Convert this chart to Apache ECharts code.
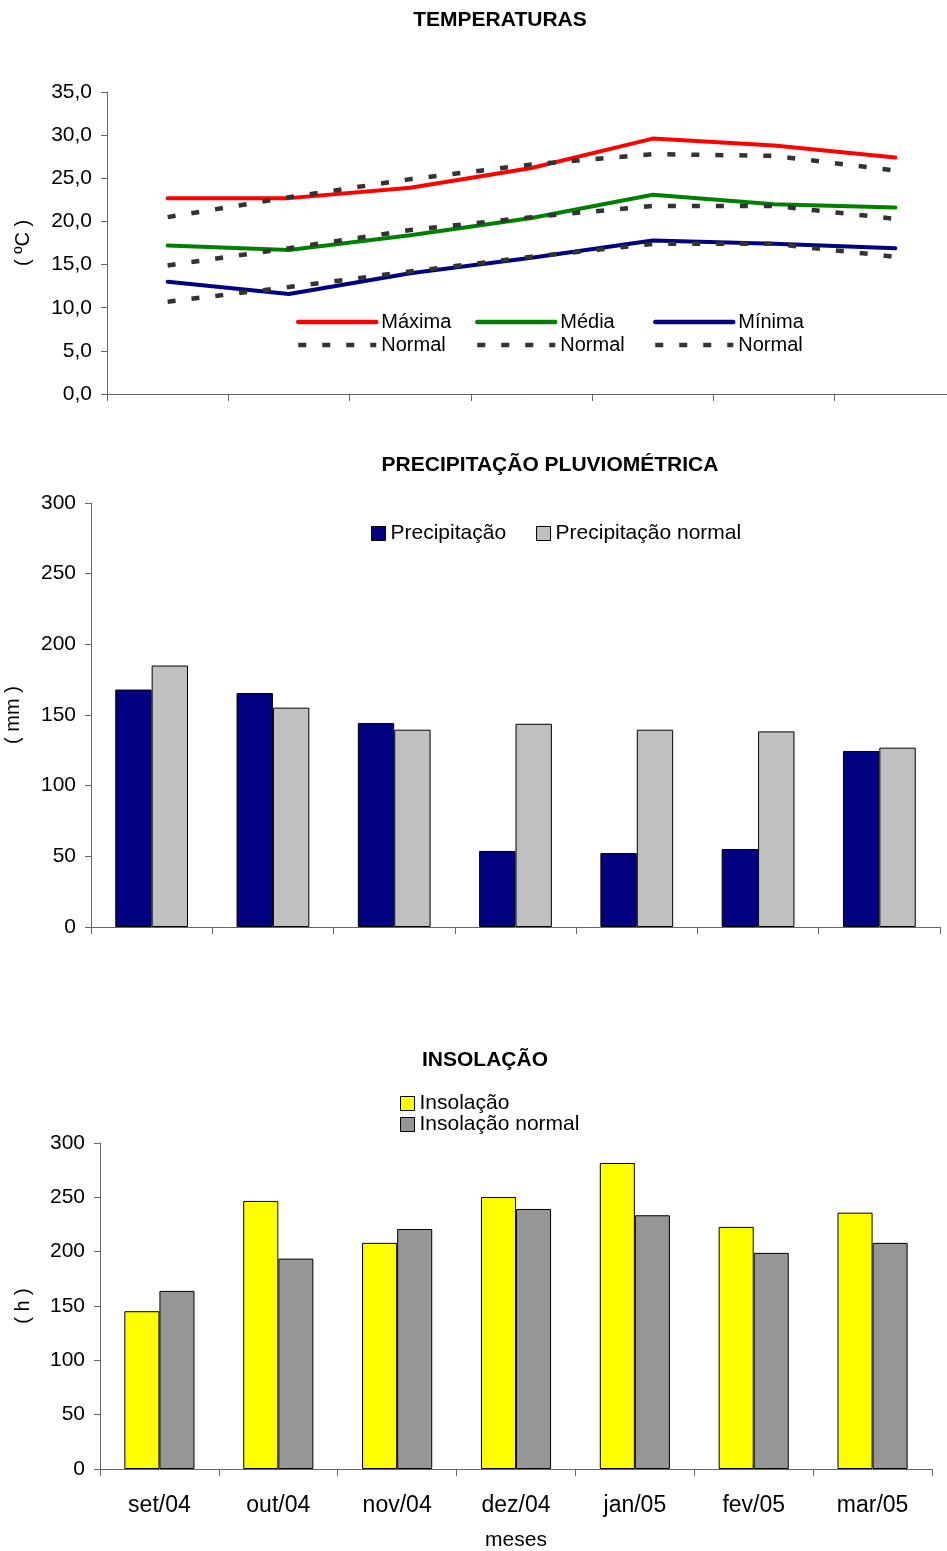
<!DOCTYPE html>
<html>
<head>
<meta charset="utf-8">
<script src="https://cdn.jsdelivr.net/npm/echarts@6/dist/echarts.min.js"></script>
<style>
  html, body { margin: 0; padding: 0; background: #fff; }
  #chart { width: 947px; height: 1551px; }
</style>
</head>
<body>
<div id="chart"></div>
<script>
// Monthly climate summary, Sep/2004 – Mar/2005
const months = ['set/04', 'out/04', 'nov/04', 'dez/04', 'jan/05', 'fev/05', 'mar/05'];

// Temperatures (ºC)
const tMax       = [22.7, 22.7, 23.9, 26.2, 29.6, 28.8, 27.4];
const tMaxNormal = [20.5, 22.8, 24.9, 26.6, 27.8, 27.6, 25.9];
const tMed       = [17.2, 16.7, 18.4, 20.4, 23.1, 22.0, 21.6];
const tMedNormal = [14.9, 16.9, 19.0, 20.5, 21.8, 21.8, 20.3];
const tMin       = [13.0, 11.6, 14.0, 15.8, 17.8, 17.4, 16.9];
const tMinNormal = [10.7, 12.4, 14.2, 15.9, 17.4, 17.4, 15.9];

// Rainfall (mm)
const precip       = [168.0, 165.5, 144.3, 53.8, 52.3, 55.2, 124.5];
const precipNormal = [185.0, 155.2, 139.6, 143.8, 139.6, 138.4, 126.9];

// Sunshine hours (h)
const insol       = [145.2, 246.7, 208.1, 250.3, 281.6, 222.8, 235.9];
const insolNormal = [163.9, 193.6, 220.9, 239.3, 233.5, 198.9, 208.1];

const FONT = "'Liberation Sans', Arial, sans-serif";
const AXIS_COLOR = '#666666';
const NORMAL_DOT = '#333333';

const chart = echarts.init(document.getElementById('chart'), null, { renderer: 'canvas' });

function baseX(gridIndex, showLabels) {
  return {
    type: 'category',
    gridIndex: gridIndex,
    data: months,
    boundaryGap: true,
    axisLine: { lineStyle: { color: AXIS_COLOR, width: 1 } },
    axisTick: { show: true, interval: 0, length: 7, lineStyle: { color: AXIS_COLOR } },
    axisLabel: showLabels
      ? { show: true, interval: 0, margin: 25, fontFamily: FONT, fontSize: 23, color: '#000' }
      : { show: false },
    splitLine: { show: false }
  };
}

function baseY(gridIndex, max, interval, name, nameGap, fmt) {
  return {
    type: 'value',
    gridIndex: gridIndex,
    min: 0,
    max: max,
    interval: interval,
    name: name,
    nameLocation: 'middle',
    nameGap: nameGap,
    nameRotate: 90,
    nameTextStyle: { fontFamily: FONT, fontSize: 20, color: '#000' },
    axisLine: { show: true, lineStyle: { color: AXIS_COLOR, width: 1 } },
    axisTick: { show: true, inside: false, length: 6, lineStyle: { color: AXIS_COLOR } },
    axisLabel: { margin: 15, fontFamily: FONT, fontSize: 21, color: '#000', formatter: fmt },
    splitLine: { show: false }
  };
}

function lineSeries(name, data, color, dotted) {
  return {
    type: 'line',
    name: name,
    xAxisIndex: 0,
    yAxisIndex: 0,
    data: data,
    symbol: 'none',
    smooth: false,
    z: dotted ? 3 : 2,
    lineStyle: dotted
      ? { color: NORMAL_DOT, width: 4.5, type: [8, 16], cap: 'butt' }
      : { color: color, width: 4, cap: 'round' },
    itemStyle: { color: dotted ? NORMAL_DOT : color }
  };
}

function barSeries(name, data, axisIndex, color, catGap) {
  return {
    type: 'bar',
    name: name,
    xAxisIndex: axisIndex,
    yAxisIndex: axisIndex,
    data: data,
    barGap: '0%',
    barCategoryGap: catGap,
    itemStyle: { color: color, borderColor: '#000', borderWidth: 1 }
  };
}

const normalLabel = name => (name.indexOf('Normal') === 0 ? 'Normal' : name);

// Temperature legend columns: line sample on top, its normal below
function tempLegend(left, names) {
  return {
    orient: 'vertical',
    left: left,
    top: 312,
    itemWidth: 78,
    itemHeight: 14,
    itemGap: 3,
    padding: 0,
    selectedMode: false,
    data: names,
    formatter: normalLabel,
    itemStyle: { opacity: 0 },
    lineStyle: { width: 4.5 },
    textStyle: { fontFamily: FONT, fontSize: 20, color: '#000' }
  };
}

const titleStyle = { fontFamily: FONT, fontSize: 21, fontWeight: 'bold', color: '#000' };

const option = {
  animation: false,
  backgroundColor: '#ffffff',
  title: [
    { text: 'TEMPERATURAS', left: 500, top: 10, padding: 0, textAlign: 'center', textStyle: titleStyle },
    { text: 'PRECIPITAÇÃO PLUVIOMÉTRICA', left: 550, top: 455, padding: 0, textAlign: 'center', textStyle: titleStyle },
    { text: 'INSOLAÇÃO', left: 485, top: 1050, padding: 0, textAlign: 'center', textStyle: titleStyle }
  ],
  legend: [
    tempLegend(296, ['Máxima', 'Normal (máxima)']),
    tempLegend(475, ['Média', 'Normal (média)']),
    tempLegend(653, ['Mínima', 'Normal (mínima)']),
    {
      orient: 'horizontal',
      left: 371,
      top: 523,
      itemWidth: 14,
      itemHeight: 14,
      itemGap: 30,
      padding: 0,
      selectedMode: false,
      icon: 'rect',
      data: ['Precipitação', 'Precipitação normal'],
      itemStyle: { borderColor: '#000', borderWidth: 1 },
      textStyle: { fontFamily: FONT, fontSize: 21, color: '#000' }
    },
    {
      orient: 'vertical',
      left: 400,
      top: 1093,
      itemWidth: 14,
      itemHeight: 14,
      itemGap: 0,
      padding: 0,
      selectedMode: false,
      icon: 'rect',
      data: ['Insolação', 'Insolação normal'],
      itemStyle: { borderColor: '#000', borderWidth: 1 },
      textStyle: { fontFamily: FONT, fontSize: 21, color: '#000' }
    }
  ],
  grid: [
    { left: 107, top: 92, width: 849, height: 302, outerBoundsMode: 'none', containLabel: false },
    { left: 91, top: 503, width: 849, height: 424, outerBoundsMode: 'none', containLabel: false },
    { left: 100, top: 1143, width: 832, height: 326, outerBoundsMode: 'none', containLabel: false }
  ],
  xAxis: [
    baseX(0, false),
    baseX(1, false),
    Object.assign(baseX(2, true), {
      name: 'meses',
      nameLocation: 'middle',
      nameGap: 61,
      nameTextStyle: { fontFamily: FONT, fontSize: 21, color: '#000' }
    })
  ],
  yAxis: [
    baseY(0, 35, 5, '( ºC )', 74, v => v.toFixed(1).replace('.', ',')),
    baseY(1, 300, 50, '( mm )', 68, v => String(v)),
    baseY(2, 300, 50, '( h )', 67, v => String(v))
  ],
  series: [
    lineSeries('Máxima', tMax, '#FF0000', false),
    lineSeries('Média', tMed, '#008000', false),
    lineSeries('Mínima', tMin, '#000080', false),
    lineSeries('Normal (máxima)', tMaxNormal, null, true),
    lineSeries('Normal (média)', tMedNormal, null, true),
    lineSeries('Normal (mínima)', tMinNormal, null, true),
    barSeries('Precipitação', precip, 1, '#000080', '40%'),
    barSeries('Precipitação normal', precipNormal, 1, '#C0C0C0', '40%'),
    barSeries('Insolação', insol, 2, '#FFFF00', '41%'),
    barSeries('Insolação normal', insolNormal, 2, '#969696', '41%')
  ]
};

chart.setOption(option);
</script>
</body>
</html>
